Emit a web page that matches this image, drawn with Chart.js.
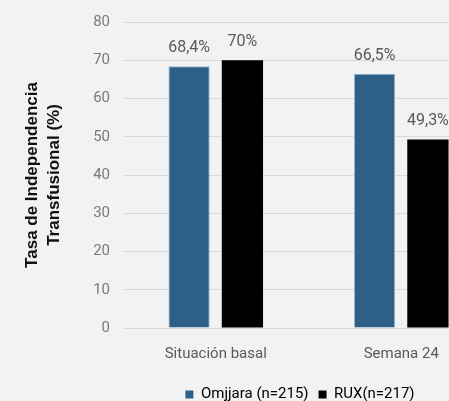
<!DOCTYPE html>
<html>
<head>
<meta charset="utf-8">
<script src="https://cdn.jsdelivr.net/npm/chart.js@4"></script>
<style>
  html, body { margin: 0; padding: 0; background: #f2f2f2; overflow: hidden; }
  #wrap { width: 600px; height: 401px; }
</style>
</head>
<body>
<div id="wrap"><canvas id="myChart" width="600" height="401"></canvas></div>
<script>
// Data
const categories = ['Situación basal', 'Semana 24'];
const omjjara = [68.4, 66.5];
const rux = [70, 49.3];
const seriesNames = ['Omjjara (n=215)', 'RUX(n=217)'];
const yTitle = ['Tasa de Independencia', 'Transfusional (%)'];

// value labels above each bar
const barLabels = {
  id: 'barLabels',
  afterDatasetsDraw(chart) {
    const ctx = chart.ctx;
    ctx.save();
    ctx.font = '16px Roboto';
    ctx.fillStyle = '#595959';
    ctx.textAlign = 'center';
    ctx.textBaseline = 'middle';
    chart.data.datasets.forEach(function (ds, i) {
      chart.getDatasetMeta(i).data.forEach(function (bar, j) {
        const txt = String(ds.data[j]).replace('.', ',') + '%';
        ctx.fillText(txt, bar.x, bar.y - 18);
      });
    });
    ctx.restore();
  }
};

// legend is centred on the full picture, not the cropped canvas
const legendShift = {
  id: 'legendShift',
  afterLayout(chart) {
    chart.legend.left += 42;
    chart.legend.right += 42;
  }
};

const config = {
  type: 'bar',
  data: {
    labels: categories,
    datasets: [
      {
        label: seriesNames[0],
        data: omjjara,
        backgroundColor: '#2e5f86',
        borderColor: '#8fb8dc',
        borderWidth: 1,
        categoryPercentage: 0.575,
        barPercentage: 0.774,
      },
      {
        label: seriesNames[1],
        data: rux,
        backgroundColor: '#000000',
        borderColor: '#000000',
        borderWidth: 0,
        categoryPercentage: 0.575,
        barPercentage: 0.774,
      },
    ],
  },
  options: {
    responsive: false,
    animation: false,
    layout: { padding: { left: 22, right: 106, top: 19, bottom: -11 } },
    plugins: {
      tooltip: { enabled: false },
      legend: {
        position: 'bottom',
        labels: {
          boxWidth: 8,
          boxHeight: 8,
          padding: 10,
          color: '#595959',
          font: { family: 'Roboto', size: 15 },
          generateLabels(chart) {
            return chart.data.datasets.map(function (ds, i) {
              return { text: ds.label, fillStyle: ds.backgroundColor, strokeStyle: ds.backgroundColor, lineWidth: 0, datasetIndex: i };
            });
          },
        },
      },
    },
    scales: {
      x: {
        grid: { display: false },
        border: { display: false },
        ticks: { color: '#595959', padding: 9, font: { family: 'Roboto', size: 15 } },
        afterFit(scale) {
          scale.height += 5;
        },
      },
      y: {
        min: 0,
        max: 80,
        ticks: { stepSize: 10, padding: 13, color: '#7a7a7a', font: { family: 'Roboto', size: 15 } },
        grid: { color: '#d9d9d9', drawTicks: false },
        border: { display: false },
        title: {
          display: true,
          text: yTitle,
          color: '#111111',
          padding: { top: 0, bottom: 0 },
          font: { family: 'Liberation Sans', size: 17, weight: 'bold', lineHeight: 1.25 },
        },
        afterFit(scale) {
          scale.width = 101;
        },
      },
    },
  },
  plugins: [barLabels, legendShift],
};

const myChart = new Chart(document.getElementById('myChart'), config);
</script>
</body>
</html>
